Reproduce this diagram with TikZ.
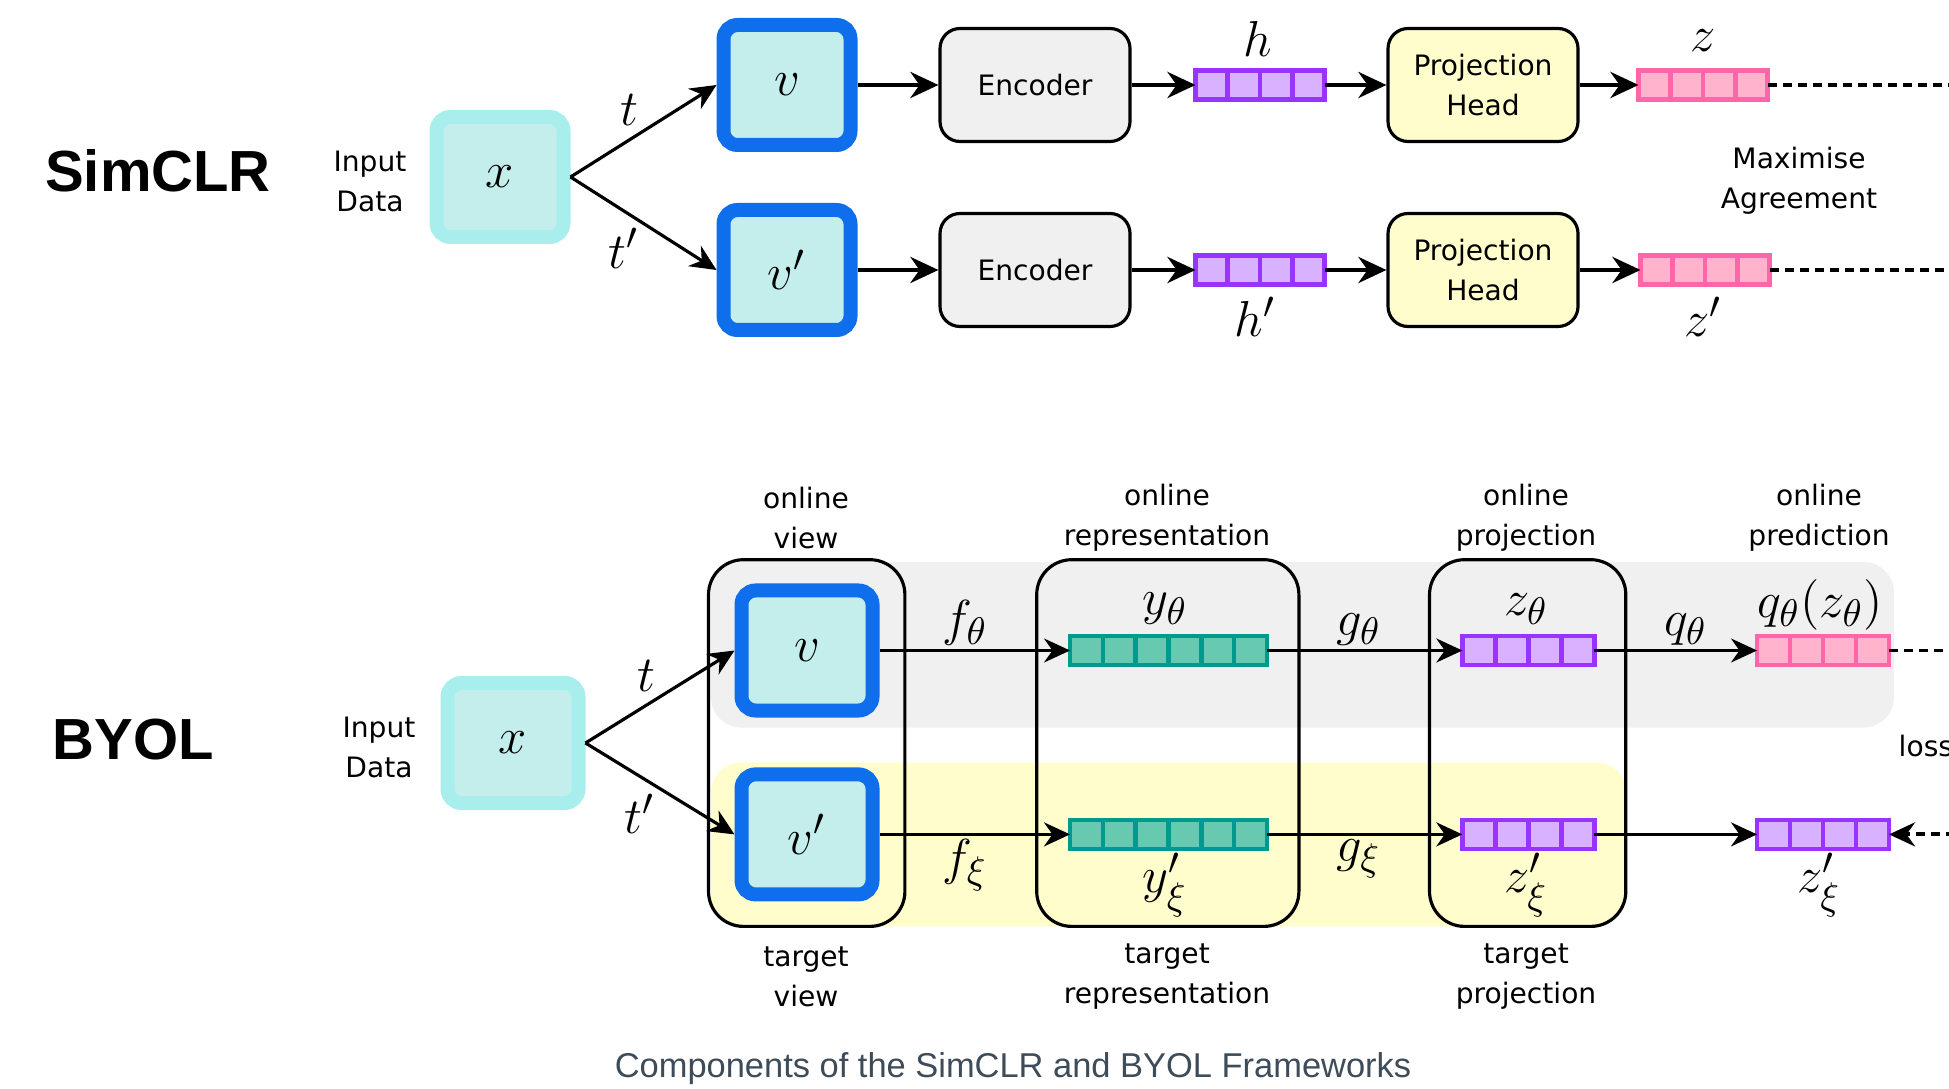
\documentclass[tikz,border=0pt]{standalone}
\usepackage{amsmath}
\usepackage{fontspec}
\newfontfamily\dejavu{DejaVu Sans}
\newfontfamily\arialfont{Liberation Sans}
\usetikzlibrary{arrows.meta,calc}

\definecolor{xfill}{HTML}{C4EEEC}
\definecolor{xline}{HTML}{A8EEEC}
\definecolor{vline}{HTML}{0E6EEB}
\definecolor{encfill}{HTML}{F0F0F0}
\definecolor{headfill}{HTML}{FFFDCC}
\definecolor{purpB}{HTML}{9933FF}
\definecolor{purpF}{HTML}{D9B2FF}
\definecolor{pinkB}{HTML}{FF66AA}
\definecolor{pinkF}{HTML}{FFB3CC}
\definecolor{tealB}{HTML}{00998F}
\definecolor{tealF}{HTML}{66C9B0}
\definecolor{bandgray}{HTML}{F0F0F0}
\definecolor{bandyel}{HTML}{FFFDCC}
\definecolor{capcol}{HTML}{3E4C59}

\tikzset{
  lbl/.style={font=\dejavu\fontsize{8}{11.4}\selectfont, align=center, inner sep=0pt},
  mlbl/.style={font=\fontsize{15}{17}\selectfont, inner sep=1pt},
  title/.style={font=\arialfont\bfseries\fontsize{16.5}{20}\selectfont},
  xbox/.style={draw=xline, fill=xfill, line width=0.14cm, rounded corners=0.14cm,
    minimum width=1.27cm, minimum height=1.2cm, font=\fontsize{15}{17}\selectfont},
  vbox/.style={xbox, draw=vline},
  block/.style={lbl, draw, line width=0.9pt, rounded corners=0.2cm,
    minimum width=1.9cm, minimum height=1.13cm},
  vec/.style={draw, line width=1.3pt, inner sep=0pt, outer sep=0pt, minimum height=0.29cm},
  purplevec/.style={vec, draw=purpB, fill=purpF, minimum width=1.29cm},
  pinkvec/.style={vec, draw=pinkB, fill=pinkF, minimum width=1.29cm},
  tealvec/.style={vec, draw=tealB, fill=tealF, minimum width=1.97cm},
  group/.style={draw, line width=0.9pt, rounded corners=0.35cm},
  arr/.style={-{Stealth[length=2.8mm,width=2.6mm]}, line width=1.4pt},
  barr/.style={-{Stealth[length=2.6mm,width=2.4mm]}, line width=0.9pt},
  agree/.style={dash pattern=on 0.09cm off 0.06cm, line width=1.1pt}
}

% dividing lines of a vector: node, number of cells, colour
\newcommand{\cells}[3]{%
  \foreach \i in {1,...,#2}
    \draw[#3, line width=1.3pt] ($(#1.north west)!\i/#2!(#1.north east)$) -- ($(#1.south west)!\i/#2!(#1.south east)$);
}

\begin{document}
\begin{tikzpicture}
\useasboundingbox (0,0) rectangle (19.49,10.88);

% SimCLR
\node[title] (simclr) at (1.58,9.17) {SimCLR};
\node[lbl] (in1) at (3.70,9.07) {Input\\Data};
\node[xbox] (x1) at (5.00,9.11) {$x$};
\node[vbox] (v1) at (7.87,10.03) {$v$};
\node[vbox] (v2) at (7.87,8.18) {$v'$};
\node[block, fill=encfill] (enc1) at (10.35,10.03) {Encoder};
\node[block, fill=encfill] (enc2) at (10.35,8.18) {Encoder};
\node[purplevec] (h1) at (12.60,10.03) {};
\node[purplevec] (h2) at (12.60,8.18) {};
\cells{h1}{4}{purpB}
\cells{h2}{4}{purpB}
\node[block, fill=headfill] (proj1) at (14.83,10.03) {Projection\\Head};
\node[block, fill=headfill] (proj2) at (14.83,8.18) {Projection\\Head};
\node[pinkvec] (z1) at (17.03,10.03) {};
\node[pinkvec] (z2) at (17.05,8.18) {};
\cells{z1}{4}{pinkB}
\cells{z2}{4}{pinkB}
\node[mlbl] (hl1) at (12.58,10.49) {$h$};
\node[mlbl] (hl2) at (12.55,7.71) {$h'$};
\node[mlbl] (zl1) at (17.03,10.47) {$z$};
\node[mlbl] (zl2) at (17.03,7.71) {$z'$};
\node[lbl] (maxagree) at (17.99,9.07) {Maximise\\Agreement};
\coordinate (e1) at (19.7,10.03);
\coordinate (e2) at (19.7,8.18);

\draw[barr] (x1.east) -- node[midway, above left, mlbl] (t1) {$t$} (v1.west);
\draw[barr] (x1.east) -- node[midway, below left, mlbl] (t2) {$t'$} (v2.west);
\draw[arr] (v1) -- (enc1);
\draw[arr] (v2) -- (enc2);
\draw[arr] (enc1) -- (h1);
\draw[arr] (enc2) -- (h2);
\draw[arr] (h1) -- (proj1);
\draw[arr] (h2) -- (proj2);
\draw[arr] (proj1) -- (z1);
\draw[arr] (proj2) -- (z2);
\draw[agree] (z1) -- (e1);
\draw[agree] (z2) -- (e2);

% BYOL
\fill[bandgray, rounded corners=0.3cm] (7.11,3.605) rectangle (18.94,5.258);
\fill[bandyel, rounded corners=0.3cm] (7.11,1.616) rectangle (16.26,3.257);
\draw[group] (7.085,1.616) rectangle (9.049,5.283);
\draw[group] (10.367,1.616) rectangle (12.989,5.283);
\draw[group] (14.295,1.616) rectangle (16.258,5.283);

\node[title] (byol) at (1.33,3.48) {BYOL};
\node[lbl] (in2) at (3.79,3.41) {Input\\Data};
\node[xbox, minimum width=1.31cm] (bx) at (5.13,3.45) {$x$};
\node[vbox, minimum width=1.31cm] (bv1) at (8.07,4.375) {$v$};
\node[vbox, minimum width=1.31cm] (bv2) at (8.07,2.536) {$v'$};
\node[tealvec] (y1) at (11.685,4.375) {};
\node[tealvec] (y2) at (11.685,2.536) {};
\cells{y1}{6}{tealB}
\cells{y2}{6}{tealB}
\node[purplevec, minimum width=1.32cm] (zt1) at (15.283,4.375) {};
\node[purplevec, minimum width=1.32cm] (zt2) at (15.283,2.536) {};
\cells{zt1}{4}{purpB}
\cells{zt2}{4}{purpB}
\node[pinkvec, minimum width=1.32cm] (qz) at (18.23,4.375) {};
\node[purplevec, minimum width=1.32cm] (zp) at (18.23,2.536) {};
\cells{qz}{4}{pinkB}
\cells{zp}{4}{purpB}

\node[mlbl] (yl1) at (11.65,4.79) {$y_\theta$};
\node[mlbl] (yl2) at (11.65,2.03) {$y'_\xi$};
\node[mlbl] (zl3) at (15.26,4.79) {$z_\theta$};
\node[mlbl] (zl4) at (15.26,2.03) {$z'_\xi$};
\node[mlbl] (ql) at (18.20,4.83) {$q_\theta(z_\theta)$};
\node[mlbl] (zl5) at (18.19,2.03) {$z'_\xi$};

\node[lbl] (onview) at (8.06,5.70) {online\\view};
\node[lbl] (onrep) at (11.67,5.70) {online\\representation};
\node[lbl] (onproj) at (15.26,5.70) {online\\projection};
\node[lbl] (onpred) at (18.19,5.70) {online\\prediction};
\node[lbl] (tgview) at (8.06,1.11) {target\\view};
\node[lbl] (tgrep) at (11.67,1.11) {target\\representation};
\node[lbl] (tgproj) at (15.26,1.11) {target\\projection};
\node[lbl, anchor=west] (loss) at (18.98,3.42) {loss};
\coordinate (e3) at (19.7,4.375);
\coordinate (e4) at (19.7,2.536);

\draw[barr] (bx.east) -- node[midway, above left, mlbl] (t3) {$t$} (bv1.west);
\draw[barr] (bx.east) -- node[midway, below left, mlbl] (t4) {$t'$} (bv2.west);
\draw[barr] (bv1) -- node[midway, above, mlbl, xshift=-1mm] (fth) {$f_\theta$} (y1);
\draw[barr] (bv2) -- node[midway, below, mlbl, xshift=-1mm] (fxi) {$f_\xi$} (y2);
\draw[barr] (y1) -- node[midway, above, mlbl, xshift=-0.6mm] (gth) {$g_\theta$} (zt1);
\draw[barr] (y2) -- node[midway, below, mlbl, xshift=-0.6mm] (gxi) {$g_\xi$} (zt2);
\draw[barr] (zt1) -- node[midway, above, mlbl, xshift=1mm] (qth) {$q_\theta$} (qz);
\draw[barr] (zt2) -- (zp);
\draw[agree] (qz) -- (e3);
\draw[agree, -{Stealth[length=2.6mm,width=2.4mm]}] (e4) -- (zp);

\node[font=\arialfont\fontsize{9.8}{12}\selectfont, text=capcol] (cap) at (10.13,0.19) {Components of the SimCLR and BYOL Frameworks};
\end{tikzpicture}
\end{document}
